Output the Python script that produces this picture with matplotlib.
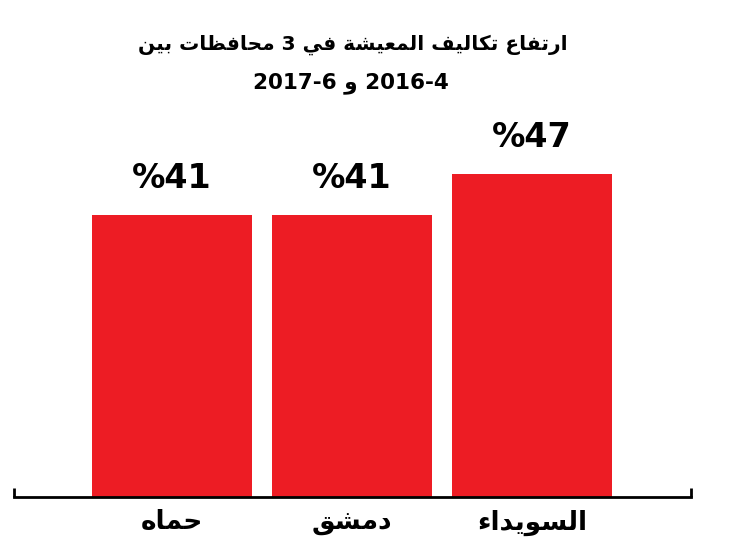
import matplotlib
matplotlib.use("Agg")
import matplotlib.pyplot as plt

# Arabic text is written with presentation forms (logical order) and turned
# into visual order below, since matplotlib does no Arabic shaping.
title_words = [
    '\uFE8D\uFEAD\uFE97\uFED4\uFE8E\uFEC9',        # ارتفاع
    '\uFE97\uFEDC\uFE8E\uFEDF\uFEF4\uFED2',        # تكاليف
    '\uFE8D\uFEDF\uFEE4\uFECC\uFEF4\uFEB8\uFE94',  # المعيشة
    '\uFED3\uFEF2',                                # في
    '3',
    '\uFEE3\uFEA4\uFE8E\uFED3\uFEC8\uFE8E\uFE95',  # محافظات
    '\uFE91\uFEF4\uFEE6',                          # بين
]
subtitle_words = ['2016-4', '\uFEED', '2017-6']    # 2016-4 و 2017-6

categories = [
    '\uFEA3\uFEE4\uFE8E\uFEE9',                          # حماه
    '\uFEA9\uFEE3\uFEB8\uFED6',                          # دمشق
    '\uFE8D\uFEDF\uFEB4\uFEEE\uFEF3\uFEAA\uFE8D\uFE80',  # السويداء
]
values = [41, 41, 47]

RED = '#ED1C24'
FONT = ['DejaVu Sans']


def visual(words):
    """Turn logical-order words into a left-to-right display string."""
    out = []
    for w in reversed(words):
        if any(ch.isdigit() for ch in w):
            out.append(w)
        else:
            out.append(w[::-1])
    return ' '.join(out)


fig = plt.figure(figsize=(7.43, 5.46), dpi=100)
ax = fig.add_axes([14 / 743, 49 / 546, 677 / 743, 377 / 546])

x = list(range(len(values)))
ax.bar(x, values, width=0.89, color=RED, zorder=2)
ax.set_xlim(-0.878, 2.883)
ax.set_ylim(0, 54.8)

for xi, v in zip(x, values):
    ax.annotate(f'%{v}', (xi, v), xytext=(0, 14), textcoords='offset points',
                ha='center', va='bottom', fontsize=24, fontweight='bold',
                family=FONT)

ax.set_xticks(x)
ax.set_xticklabels([visual([c]) for c in categories], fontsize=19,
                   fontweight='bold', family=FONT)
ax.tick_params(axis='x', length=0, pad=9)
ax.set_yticks([])

for side in ['top', 'right', 'left']:
    ax.spines[side].set_visible(False)
ax.spines['bottom'].set_linewidth(2)
ax.spines['bottom'].set_zorder(3)

# small upturned ends of the baseline
for xe in (-0.878, 2.883):
    ax.plot([xe, xe], [0, 1.3], color='black', lw=2, clip_on=False,
            solid_capstyle='butt')

fig.text(353 / 743, 1 - 45 / 546, visual(title_words), ha='center',
         va='center', fontsize=14.5, fontweight='bold', family=FONT)
fig.text(351 / 743, 1 - 83 / 546, visual(subtitle_words), ha='center',
         va='center', fontsize=15.5, fontweight='bold', family=FONT)

fig.savefig('out.png', dpi=100, facecolor='white')
